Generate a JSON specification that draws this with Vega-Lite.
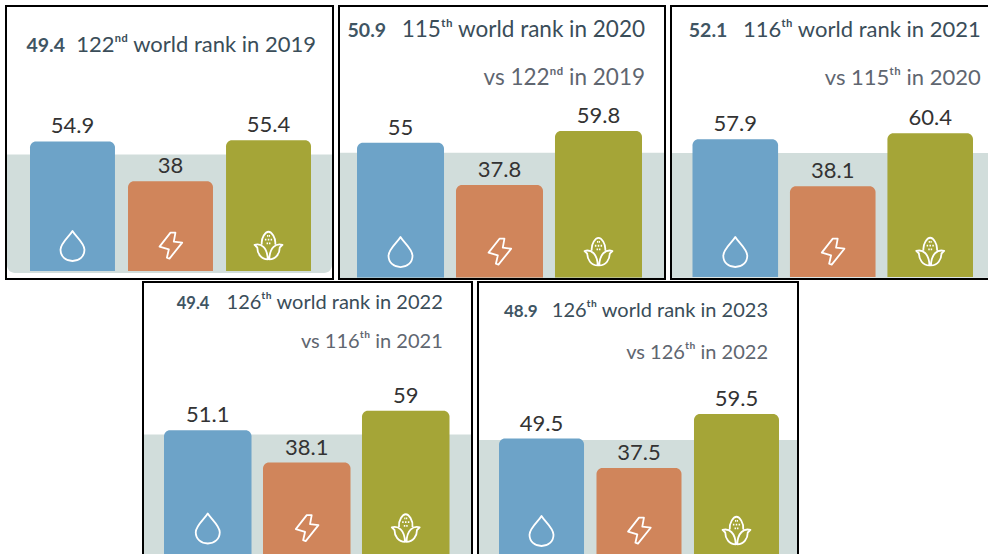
{"$schema":"https://vega.github.io/schema/vega-lite/v6.json","padding":{"left":5,"top":5,"right":0,"bottom":0},"background":"white","spacing":1,"config":{"view":{"stroke":"#000","strokeWidth":2},"text":{"font":"Lato"},"axis":{"disable":true}},
"vconcat":[{"spacing":4,"hconcat":[
{"width":327,"height":273,"data":{"values":[{"indicator":"Water","value":54.9},{"indicator":"Energy","value":38},{"indicator":"Food","value":55.4}]},
"encoding":{"x":{"field":"indicator","type":"nominal","axis":null,"scale":{"domain":["Water","Energy","Food"],"range":[24,305],"paddingInner":0.133,"paddingOuter":0}}},
"layer":[
{"data":{"values":[{"score":49.4}]},"mark":{"type":"rect","color":"#d1dddb","cornerRadiusBottomLeft":8,"cornerRadiusBottomRight":8},"encoding":{"x":{"value":1},"x2":{"value":326},"y":{"field":"score","type":"quantitative","axis":null,"scale":{"domain":[-3.39,112.3],"nice":false,"zero":false}},"y2":{"datum":-0.8}}},
{"mark":{"type":"bar","cornerRadiusTopLeft":6,"cornerRadiusTopRight":6},"encoding":{"y":{"field":"value","type":"quantitative"},"y2":{"datum":0},"color":{"field":"indicator","type":"nominal","legend":null,"scale":{"domain":["Water","Energy","Food"],"range":["#6da3c8","#d0855b","#a5a537"]}}}},
{"mark":{"type":"text","fontSize":22,"color":"#333","dy":-8,"baseline":"alphabetic"},"encoding":{"y":{"field":"value","type":"quantitative"},"text":{"field":"value","type":"nominal"}}},
{"mark":{"type":"point","filled":false,"stroke":"white","strokeWidth":1.8,"opacity":1,"size":900,"strokeJoin":"round"},"encoding":{"y":{"datum":10.6},"shape":{"field":"indicator","type":"nominal","legend":null,"scale":{"domain":["Water","Energy","Food"],"range":["M0,-1 C0.2,-0.65 0.8,-0.2 0.8,0.25 C0.8,0.7 0.45,1 0,1 C-0.45,1 -0.8,0.7 -0.8,0.25 C-0.8,-0.2 -0.2,-0.65 0,-1 Z","M0,-0.89 L0.33,-0.89 L0.22,-0.29 L0.78,-0.22 L-0.07,0.84 L-0.24,0.78 L-0.11,0.22 L-0.73,0.04 Z","M-0.45,-0.1 C-0.5,-0.55 -0.2,-0.95 0,-0.95 C0.2,-0.95 0.5,-0.55 0.45,-0.1 M-0.93,-0.07 C-0.5,-0.2 -0.08,0.1 -0.05,0.89 C-0.5,0.89 -0.75,0.5 -0.75,0.1 Z M0.93,-0.07 C0.5,-0.2 0.08,0.1 0.05,0.89 C0.5,0.89 0.75,0.5 0.75,0.1 Z M-0.1,-0.68 L-0.02,-0.68 M0.02,-0.68 L0.1,-0.68 M-0.24,-0.42 L-0.14,-0.42 M0.14,-0.42 L0.24,-0.42 M-0.05,-0.42 L0.05,-0.42 M-0.13,-0.18 L-0.03,-0.18 M0.03,-0.18 L0.13,-0.18"]}}}},
{"data":{"values":[{"score":49.4}]},"mark":{"type":"text","fontSize":19.5,"fontWeight":"bold","color":"#3f5563","align":"left","baseline":"alphabetic","dx":-46},"encoding":{"x":{"datum":"Water"},"y":{"datum":92.8},"text":{"field":"score","type":"nominal"}}},
{"data":{"values":[{"rank":"122ⁿᵈ world rank in 2019"}]},"mark":{"type":"text","fontSize":22,"color":"#3a4d59","align":"right","baseline":"alphabetic","dx":47.5},"encoding":{"x":{"datum":"Food"},"y":{"datum":92.8},"text":{"field":"rank","type":"nominal"}}}
]},
{"width":326,"height":273,"data":{"values":[{"indicator":"Water","value":55},{"indicator":"Energy","value":37.8},{"indicator":"Food","value":59.8}]},
"encoding":{"x":{"field":"indicator","type":"nominal","axis":null,"scale":{"domain":["Water","Energy","Food"],"range":[18,303],"paddingInner":0.121,"paddingOuter":0}}},
"layer":[
{"data":{"values":[{"score":50.9}]},"mark":{"type":"rect","color":"#d1dddb"},"encoding":{"x":{"value":1},"x2":{"value":325},"y":{"field":"score","type":"quantitative","axis":null,"scale":{"domain":[-0.6,110.8],"nice":false,"zero":false}},"y2":{"datum":-0.2}}},
{"mark":{"type":"bar","cornerRadiusTopLeft":6,"cornerRadiusTopRight":6},"encoding":{"y":{"field":"value","type":"quantitative"},"y2":{"datum":0},"color":{"field":"indicator","type":"nominal","legend":null,"scale":{"domain":["Water","Energy","Food"],"range":["#6da3c8","#d0855b","#a5a537"]}}}},
{"mark":{"type":"text","fontSize":22,"color":"#333","dy":-8,"baseline":"alphabetic"},"encoding":{"y":{"field":"value","type":"quantitative"},"text":{"field":"value","type":"nominal"}}},
{"mark":{"type":"point","filled":false,"stroke":"white","strokeWidth":1.8,"opacity":1,"size":900,"strokeJoin":"round"},"encoding":{"y":{"datum":10.4},"shape":{"field":"indicator","type":"nominal","legend":null,"scale":{"domain":["Water","Energy","Food"],"range":["M0,-1 C0.2,-0.65 0.8,-0.2 0.8,0.25 C0.8,0.7 0.45,1 0,1 C-0.45,1 -0.8,0.7 -0.8,0.25 C-0.8,-0.2 -0.2,-0.65 0,-1 Z","M0,-0.89 L0.33,-0.89 L0.22,-0.29 L0.78,-0.22 L-0.07,0.84 L-0.24,0.78 L-0.11,0.22 L-0.73,0.04 Z","M-0.45,-0.1 C-0.5,-0.55 -0.2,-0.95 0,-0.95 C0.2,-0.95 0.5,-0.55 0.45,-0.1 M-0.93,-0.07 C-0.5,-0.2 -0.08,0.1 -0.05,0.89 C-0.5,0.89 -0.75,0.5 -0.75,0.1 Z M0.93,-0.07 C0.5,-0.2 0.08,0.1 0.05,0.89 C0.5,0.89 0.75,0.5 0.75,0.1 Z M-0.1,-0.68 L-0.02,-0.68 M0.02,-0.68 L0.1,-0.68 M-0.24,-0.42 L-0.14,-0.42 M0.14,-0.42 L0.24,-0.42 M-0.05,-0.42 L0.05,-0.42 M-0.13,-0.18 L-0.03,-0.18 M0.03,-0.18 L0.13,-0.18"]}}}},
{"data":{"values":[{"score":50.9}]},"mark":{"type":"text","fontSize":19.5,"fontWeight":"bold","color":"#3f5563","align":"left","baseline":"alphabetic","dx":-53},"encoding":{"x":{"datum":"Water"},"y":{"datum":98.2},"text":{"field":"score","type":"nominal"}}},
{"data":{"values":[{"rank":"115ᵗʰ world rank in 2020"}]},"mark":{"type":"text","fontSize":22.5,"color":"#3a4d59","align":"right","baseline":"alphabetic","dx":46.5},"encoding":{"x":{"datum":"Food"},"y":{"datum":98.2},"text":{"field":"rank","type":"nominal"}}},
{"data":{"values":[{"versus":"vs 122ⁿᵈ in 2019"}]},"mark":{"type":"text","fontSize":22.5,"color":"#5f6670","align":"right","baseline":"alphabetic","dx":46.5},"encoding":{"x":{"datum":"Food"},"y":{"datum":78.6},"text":{"field":"versus","type":"nominal"}}}
]},
{"width":322,"height":273,"data":{"values":[{"indicator":"Water","value":57.9},{"indicator":"Energy","value":38.1},{"indicator":"Food","value":60.4}]},
"encoding":{"x":{"field":"indicator","type":"nominal","axis":null,"scale":{"domain":["Water","Energy","Food"],"range":[21.5,302],"paddingInner":0.122,"paddingOuter":0}}},
"layer":[
{"data":{"values":[{"score":52.1}]},"mark":{"type":"rect","color":"#d1dddb"},"encoding":{"x":{"value":1},"x2":{"value":321},"y":{"field":"score","type":"quantitative","axis":null,"scale":{"domain":[-0.84,113.9],"nice":false,"zero":false}},"y2":{"datum":-0.3}}},
{"mark":{"type":"bar","cornerRadiusTopLeft":6,"cornerRadiusTopRight":6},"encoding":{"y":{"field":"value","type":"quantitative"},"y2":{"datum":0},"color":{"field":"indicator","type":"nominal","legend":null,"scale":{"domain":["Water","Energy","Food"],"range":["#6da3c8","#d0855b","#a5a537"]}}}},
{"mark":{"type":"text","fontSize":22,"color":"#333","dy":-8,"baseline":"alphabetic"},"encoding":{"y":{"field":"value","type":"quantitative"},"text":{"field":"value","type":"nominal"}}},
{"mark":{"type":"point","filled":false,"stroke":"white","strokeWidth":1.8,"opacity":1,"size":900,"strokeJoin":"round"},"encoding":{"y":{"datum":10.5},"shape":{"field":"indicator","type":"nominal","legend":null,"scale":{"domain":["Water","Energy","Food"],"range":["M0,-1 C0.2,-0.65 0.8,-0.2 0.8,0.25 C0.8,0.7 0.45,1 0,1 C-0.45,1 -0.8,0.7 -0.8,0.25 C-0.8,-0.2 -0.2,-0.65 0,-1 Z","M0,-0.89 L0.33,-0.89 L0.22,-0.29 L0.78,-0.22 L-0.07,0.84 L-0.24,0.78 L-0.11,0.22 L-0.73,0.04 Z","M-0.45,-0.1 C-0.5,-0.55 -0.2,-0.95 0,-0.95 C0.2,-0.95 0.5,-0.55 0.45,-0.1 M-0.93,-0.07 C-0.5,-0.2 -0.08,0.1 -0.05,0.89 C-0.5,0.89 -0.75,0.5 -0.75,0.1 Z M0.93,-0.07 C0.5,-0.2 0.08,0.1 0.05,0.89 C0.5,0.89 0.75,0.5 0.75,0.1 Z M-0.1,-0.68 L-0.02,-0.68 M0.02,-0.68 L0.1,-0.68 M-0.24,-0.42 L-0.14,-0.42 M0.14,-0.42 L0.24,-0.42 M-0.05,-0.42 L0.05,-0.42 M-0.13,-0.18 L-0.03,-0.18 M0.03,-0.18 L0.13,-0.18"]}}}},
{"data":{"values":[{"score":52.1}]},"mark":{"type":"text","fontSize":19.5,"fontWeight":"bold","color":"#3f5563","align":"left","baseline":"alphabetic","dx":-46.5},"encoding":{"x":{"datum":"Water"},"y":{"datum":100.8},"text":{"field":"score","type":"nominal"}}},
{"data":{"values":[{"rank":"116ᵗʰ world rank in 2021"}]},"mark":{"type":"text","fontSize":22,"color":"#3a4d59","align":"right","baseline":"alphabetic","dx":50.5},"encoding":{"x":{"datum":"Food"},"y":{"datum":100.8},"text":{"field":"rank","type":"nominal"}}},
{"data":{"values":[{"versus":"vs 115ᵗʰ in 2020"}]},"mark":{"type":"text","fontSize":22,"color":"#5f6670","align":"right","baseline":"alphabetic","dx":50.5},"encoding":{"x":{"datum":"Food"},"y":{"datum":80.7},"text":{"field":"versus","type":"nominal"}}}
]}
]},
{"spacing":4,"hconcat":[
{"width":132,"height":1,"view":{"stroke":null},"data":{"values":[{"spacer":0}]},"mark":{"type":"rect","opacity":0},"encoding":{}},
{"width":329,"height":274,"data":{"values":[{"indicator":"Water","value":51.1},{"indicator":"Energy","value":38.1},{"indicator":"Food","value":59}]},
"encoding":{"x":{"field":"indicator","type":"nominal","axis":null,"scale":{"domain":["Water","Energy","Food"],"range":[21,306.5],"paddingInner":0.116,"paddingOuter":0}}},
"layer":[
{"data":{"values":[{"score":49.4}]},"mark":{"type":"rect","color":"#d1dddb"},"encoding":{"x":{"value":1},"x2":{"value":328},"y":{"field":"score","type":"quantitative","axis":null,"scale":{"domain":[0.4,110.9],"nice":false,"zero":false}},"y2":{"datum":0.4}}},
{"mark":{"type":"bar","cornerRadiusTopLeft":6,"cornerRadiusTopRight":6},"encoding":{"y":{"field":"value","type":"quantitative"},"y2":{"datum":0.4},"color":{"field":"indicator","type":"nominal","legend":null,"scale":{"domain":["Water","Energy","Food"],"range":["#6da3c8","#d0855b","#a5a537"]}}}},
{"mark":{"type":"text","fontSize":22,"color":"#333","dy":-8,"baseline":"alphabetic"},"encoding":{"y":{"field":"value","type":"quantitative"},"text":{"field":"value","type":"nominal"}}},
{"mark":{"type":"point","filled":false,"stroke":"white","strokeWidth":1.8,"opacity":1,"size":900,"strokeJoin":"round"},"encoding":{"y":{"datum":11.5},"shape":{"field":"indicator","type":"nominal","legend":null,"scale":{"domain":["Water","Energy","Food"],"range":["M0,-1 C0.2,-0.65 0.8,-0.2 0.8,0.25 C0.8,0.7 0.45,1 0,1 C-0.45,1 -0.8,0.7 -0.8,0.25 C-0.8,-0.2 -0.2,-0.65 0,-1 Z","M0,-0.89 L0.33,-0.89 L0.22,-0.29 L0.78,-0.22 L-0.07,0.84 L-0.24,0.78 L-0.11,0.22 L-0.73,0.04 Z","M-0.45,-0.1 C-0.5,-0.55 -0.2,-0.95 0,-0.95 C0.2,-0.95 0.5,-0.55 0.45,-0.1 M-0.93,-0.07 C-0.5,-0.2 -0.08,0.1 -0.05,0.89 C-0.5,0.89 -0.75,0.5 -0.75,0.1 Z M0.93,-0.07 C0.5,-0.2 0.08,0.1 0.05,0.89 C0.5,0.89 0.75,0.5 0.75,0.1 Z M-0.1,-0.68 L-0.02,-0.68 M0.02,-0.68 L0.1,-0.68 M-0.24,-0.42 L-0.14,-0.42 M0.14,-0.42 L0.24,-0.42 M-0.05,-0.42 L0.05,-0.42 M-0.13,-0.18 L-0.03,-0.18 M0.03,-0.18 L0.13,-0.18"]}}}},
{"data":{"values":[{"score":49.4}]},"mark":{"type":"text","fontSize":16.5,"fontWeight":"bold","color":"#3f5563","align":"left","baseline":"alphabetic","dx":-31},"encoding":{"x":{"datum":"Water"},"y":{"datum":100},"text":{"field":"score","type":"nominal"}}},
{"data":{"values":[{"rank":"126ᵗʰ world rank in 2022"}]},"mark":{"type":"text","fontSize":20,"color":"#3a4d59","align":"right","baseline":"alphabetic","dx":37},"encoding":{"x":{"datum":"Food"},"y":{"datum":100},"text":{"field":"rank","type":"nominal"}}},
{"data":{"values":[{"versus":"vs 116ᵗʰ in 2021"}]},"mark":{"type":"text","fontSize":20,"color":"#5f6670","align":"right","baseline":"alphabetic","dx":37},"encoding":{"x":{"datum":"Food"},"y":{"datum":84.3},"text":{"field":"versus","type":"nominal"}}}
]},
{"width":320,"height":274,"data":{"values":[{"indicator":"Water","value":49.5},{"indicator":"Energy","value":37.5},{"indicator":"Food","value":59.5}]},
"encoding":{"x":{"field":"indicator","type":"nominal","axis":null,"scale":{"domain":["Water","Energy","Food"],"range":[21,301],"paddingInner":0.128,"paddingOuter":0}}},
"layer":[
{"data":{"values":[{"score":48.9}]},"mark":{"type":"rect","color":"#d1dddb"},"encoding":{"x":{"value":1},"x2":{"value":319},"y":{"field":"score","type":"quantitative","axis":null,"scale":{"domain":[1.55,113.4],"nice":false,"zero":false}},"y2":{"datum":1.55}}},
{"mark":{"type":"bar","cornerRadiusTopLeft":6,"cornerRadiusTopRight":6},"encoding":{"y":{"field":"value","type":"quantitative"},"y2":{"datum":1.55},"color":{"field":"indicator","type":"nominal","legend":null,"scale":{"domain":["Water","Energy","Food"],"range":["#6da3c8","#d0855b","#a5a537"]}}}},
{"mark":{"type":"text","fontSize":22,"color":"#333","dy":-8,"baseline":"alphabetic"},"encoding":{"y":{"field":"value","type":"quantitative"},"text":{"field":"value","type":"nominal"}}},
{"mark":{"type":"point","filled":false,"stroke":"white","strokeWidth":1.8,"opacity":1,"size":900,"strokeJoin":"round"},"encoding":{"y":{"datum":11.75},"shape":{"field":"indicator","type":"nominal","legend":null,"scale":{"domain":["Water","Energy","Food"],"range":["M0,-1 C0.2,-0.65 0.8,-0.2 0.8,0.25 C0.8,0.7 0.45,1 0,1 C-0.45,1 -0.8,0.7 -0.8,0.25 C-0.8,-0.2 -0.2,-0.65 0,-1 Z","M0,-0.89 L0.33,-0.89 L0.22,-0.29 L0.78,-0.22 L-0.07,0.84 L-0.24,0.78 L-0.11,0.22 L-0.73,0.04 Z","M-0.45,-0.1 C-0.5,-0.55 -0.2,-0.95 0,-0.95 C0.2,-0.95 0.5,-0.55 0.45,-0.1 M-0.93,-0.07 C-0.5,-0.2 -0.08,0.1 -0.05,0.89 C-0.5,0.89 -0.75,0.5 -0.75,0.1 Z M0.93,-0.07 C0.5,-0.2 0.08,0.1 0.05,0.89 C0.5,0.89 0.75,0.5 0.75,0.1 Z M-0.1,-0.68 L-0.02,-0.68 M0.02,-0.68 L0.1,-0.68 M-0.24,-0.42 L-0.14,-0.42 M0.14,-0.42 L0.24,-0.42 M-0.05,-0.42 L0.05,-0.42 M-0.13,-0.18 L-0.03,-0.18 M0.03,-0.18 L0.13,-0.18"]}}}},
{"data":{"values":[{"score":48.9}]},"mark":{"type":"text","fontSize":17,"fontWeight":"bold","color":"#3f5563","align":"left","baseline":"alphabetic","dx":-37.5},"encoding":{"x":{"datum":"Water"},"y":{"datum":99.1},"text":{"field":"score","type":"nominal"}}},
{"data":{"values":[{"rank":"126ᵗʰ world rank in 2023"}]},"mark":{"type":"text","fontSize":20,"color":"#3a4d59","align":"right","baseline":"alphabetic","dx":31.5},"encoding":{"x":{"datum":"Food"},"y":{"datum":99.1},"text":{"field":"rank","type":"nominal"}}},
{"data":{"values":[{"versus":"vs 126ᵗʰ in 2022"}]},"mark":{"type":"text","fontSize":20,"color":"#5f6670","align":"right","baseline":"alphabetic","dx":31.5},"encoding":{"x":{"datum":"Food"},"y":{"datum":81.96},"text":{"field":"versus","type":"nominal"}}}
]}
]}
]}
